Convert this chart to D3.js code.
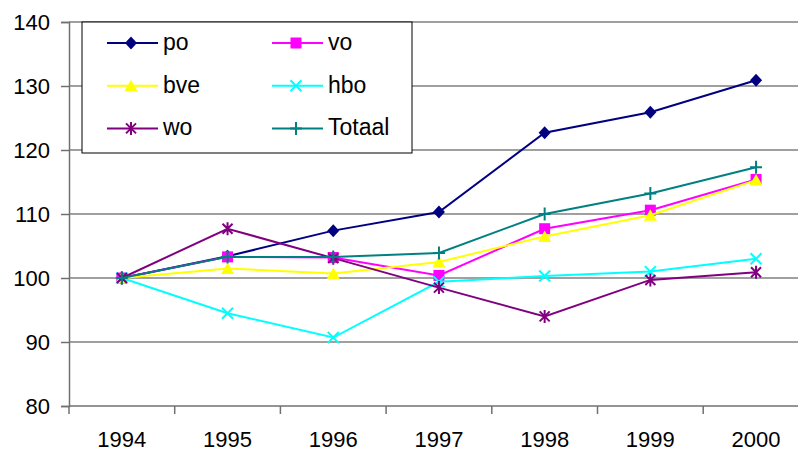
<!DOCTYPE html>
<meta charset="utf-8">
<script src="https://d3js.org/d3.v7.min.js"></script>
<style>
  body { margin: 0; background: #fff; }
  svg text { font-family: "Liberation Sans", Arial, sans-serif; fill: #000; }
</style>
<body>
<div id="chart"></div>
<script>
// data (index, 1994 = 100)
var years  = ["1994", "1995", "1996", "1997", "1998", "1999", "2000"];
var po     = [100, 103.4, 107.4, 110.3, 122.7, 125.9, 130.9];
var vo     = [100, 103.3, 103.2, 100.4, 107.7, 110.6, 115.4];
var bve    = [100, 101.5, 100.7, 102.5, 106.5, 109.8, 115.3];
var hbo    = [100, 94.5, 90.7, 99.4, 100.3, 101.0, 103.0];
var wo     = [100, 107.7, 103.1, 98.5, 94.0, 99.7, 100.9];
var totaal = [100, 103.3, 103.3, 103.9, 110.0, 113.2, 117.3];
var yTicks = [80, 90, 100, 110, 120, 130, 140];

var series = [
  { name: "po", values: po, color: "#000080", marker: "diamond" },
  { name: "vo", values: vo, color: "#FF00FF", marker: "square" },
  { name: "bve", values: bve, color: "#FFFF00", marker: "triangle" },
  { name: "hbo", values: hbo, color: "#00FFFF", marker: "cross" },
  { name: "wo", values: wo, color: "#800080", marker: "star" },
  { name: "Totaal", values: totaal, color: "#008080", marker: "plus" }
];

var width = 798, height = 453;
var plotLeft = 69, plotTop = 22, plotBottom = 406, bandW = 105.7;

var svg = d3.select("#chart").append("svg")
  .attr("width", width)
  .attr("height", height);

var x = d3.scaleBand().domain(years).range([plotLeft, plotLeft + bandW * years.length]);
var y = d3.scaleLinear().domain([80, 140]).range([plotBottom, plotTop]);
var cx = function (d) { return x(d) + x.bandwidth() / 2; };

// gridlines
svg.append("g").selectAll("line")
  .data(yTicks.filter(function (t) { return t > 80; }))
  .enter().append("line")
  .attr("x1", plotLeft).attr("x2", plotLeft + bandW * years.length)
  .attr("y1", function (d) { return y(d); })
  .attr("y2", function (d) { return y(d); })
  .attr("stroke", "#808080")
  .attr("stroke-width", 1.5);

// y axis
var yAxis = svg.append("g")
  .attr("transform", "translate(" + plotLeft + ",0)")
  .call(d3.axisLeft(y).tickValues(yTicks).tickSize(8).tickPadding(11));
yAxis.select(".domain").attr("stroke", "#707070").attr("stroke-width", 1.5);
yAxis.selectAll(".tick line").attr("stroke", "#707070").attr("stroke-width", 1.5);
yAxis.selectAll(".tick text").attr("font-size", 22).attr("font-family", "Liberation Sans, Arial, sans-serif");

// x axis, ticks between categories
var xg = svg.append("g");
xg.append("line")
  .attr("x1", plotLeft).attr("x2", plotLeft + bandW * years.length)
  .attr("y1", plotBottom).attr("y2", plotBottom)
  .attr("stroke", "#707070").attr("stroke-width", 1.5);
xg.selectAll(".xt")
  .data(years.concat(["end"]))
  .enter().append("line")
  .attr("class", "xt")
  .attr("x1", function (d, i) { return plotLeft + bandW * i; })
  .attr("x2", function (d, i) { return plotLeft + bandW * i; })
  .attr("y1", plotBottom).attr("y2", plotBottom + 8)
  .attr("stroke", "#707070").attr("stroke-width", 1.5);
xg.selectAll("text")
  .data(years)
  .enter().append("text")
  .attr("x", cx)
  .attr("y", 447)
  .attr("text-anchor", "middle")
  .attr("font-size", 22)
  .text(function (d) { return d; });

// marker shapes
function drawMarker(g, type, color) {
  if (type === "diamond") {
    g.append("path").attr("d", "M0,-6.5L6,0L0,6.5L-6,0Z").attr("fill", color);
  } else if (type === "square") {
    g.append("rect").attr("x", -5.5).attr("y", -5.5).attr("width", 11).attr("height", 11).attr("fill", color);
  } else if (type === "triangle") {
    g.append("path").attr("d", "M0,-6L6.5,5.5L-6.5,5.5Z").attr("fill", color);
  } else if (type === "cross") {
    g.append("path").attr("d", "M-5.5,-5.5L5.5,5.5M-5.5,5.5L5.5,-5.5")
      .attr("stroke", color).attr("stroke-width", 2).attr("fill", "none");
  } else if (type === "star") {
    g.append("path").attr("d", "M-5,-5L5,5M-5,5L5,-5M0,-6.5L0,6.5")
      .attr("stroke", color).attr("stroke-width", 2).attr("fill", "none");
  } else if (type === "plus") {
    g.append("path").attr("d", "M-6,0L6,0M0,-6.5L0,6.5")
      .attr("stroke", color).attr("stroke-width", 2).attr("fill", "none");
  }
}

var line = d3.line()
  .x(function (d, i) { return cx(years[i]); })
  .y(function (d) { return y(d); });

series.forEach(function (s) {
  var g = svg.append("g");
  g.append("path")
    .attr("d", line(s.values))
    .attr("fill", "none")
    .attr("stroke", s.color)
    .attr("stroke-width", 2);
  s.values.forEach(function (v, i) {
    var m = g.append("g").attr("transform", "translate(" + cx(years[i]) + "," + y(v) + ")");
    drawMarker(m, s.marker, s.color);
  });
});

// legend
var lg = svg.append("g");
lg.append("rect")
  .attr("x", 82).attr("y", 22)
  .attr("width", 330).attr("height", 131)
  .attr("fill", "#fff").attr("stroke", "#000").attr("stroke-width", 1);

series.forEach(function (s, i) {
  var col = i % 2, row = Math.floor(i / 2);
  var lx = 107 + col * 165, ly = 43 + row * 42.7;
  var g = lg.append("g");
  g.append("line")
    .attr("x1", lx).attr("x2", lx + 51)
    .attr("y1", ly).attr("y2", ly)
    .attr("stroke", s.color).attr("stroke-width", 2);
  var m = g.append("g").attr("transform", "translate(" + (lx + 24) + "," + ly + ")");
  drawMarker(m, s.marker, s.color);
  g.append("text")
    .attr("x", lx + 56)
    .attr("y", ly + 7)
    .attr("font-size", 23)
    .text(s.name);
});
</script>
</body>
